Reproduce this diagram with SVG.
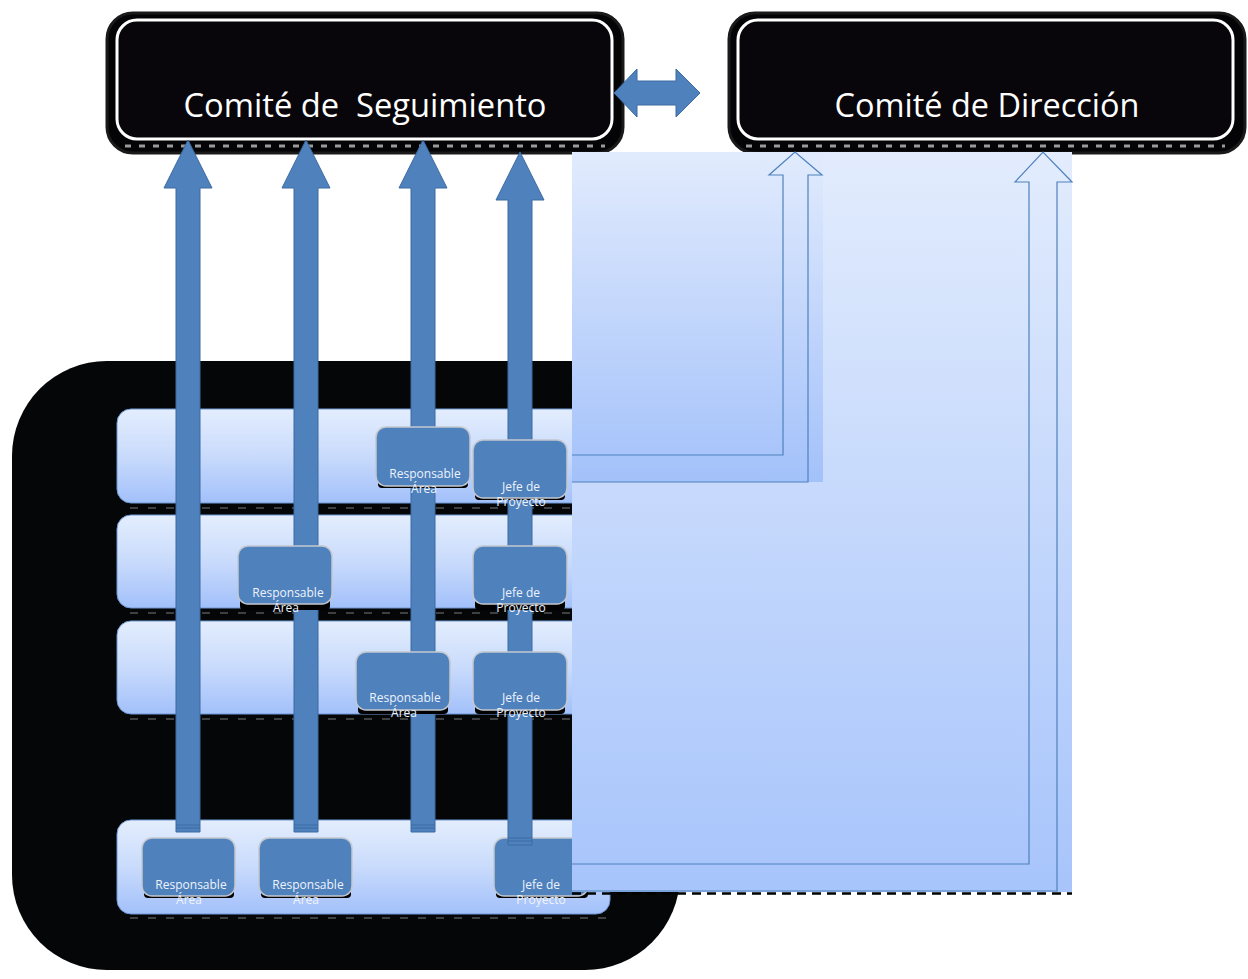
<svg xmlns="http://www.w3.org/2000/svg" width="1248" height="979" viewBox="0 0 1248 979">
<defs>
<linearGradient id="rowG" x1="0" y1="0" x2="0" y2="1">
<stop offset="0" stop-color="#e3edfd"/>
<stop offset="0.5" stop-color="#c9dbfc"/>
<stop offset="1" stop-color="#a2c0fa"/>
</linearGradient>
<linearGradient id="panelG" x1="0" y1="0" x2="0" y2="1">
<stop offset="0" stop-color="#e2ecfd"/>
<stop offset="1" stop-color="#a7c4fb"/>
</linearGradient>
<linearGradient id="panel2G" x1="0" y1="0" x2="0" y2="1">
<stop offset="0" stop-color="#e1ebfd"/>
<stop offset="1" stop-color="#a3c1fa"/>
</linearGradient>
<style>
.title{font-family:"Open Sans","Noto Sans","Liberation Sans",sans-serif;font-size:33px;fill:#ffffff}
.lbl{font-family:"Open Sans","Noto Sans","Liberation Sans",sans-serif;font-size:12px;fill:#eef3fb;text-anchor:middle}
.node{fill:#4f81bd;stroke:#c4c8cf;stroke-width:1.5}
.shadow{fill:#000000}
.row{fill:url(#rowG);stroke:#6f98d4;stroke-width:1}
.arrow{fill:#4f81bd;stroke:#3d6aa2;stroke-width:1}
.hollow{fill:none;stroke:#4f81bd;stroke-width:1.2}
.boxOuter{fill:#040305;stroke:#1a1a1a;stroke-width:3}
.boxInner{fill:#08060a;stroke:#ffffff;stroke-width:3}
.dash{stroke:#9a9a9a;stroke-width:3;stroke-dasharray:6 8;fill:none}
.rowdash{stroke:#7a7a7a;stroke-width:1;stroke-dasharray:8 10;fill:none}
.bdash{stroke:#000000;stroke-width:2.5;stroke-dasharray:9 6;fill:none}
</style>
</defs>

<!-- big black background -->
<g id="equipos">
<rect x="12" y="361" width="668" height="609" rx="95" fill="#050608"/>
</g>

<!-- rows -->
<g id="rows">
<rect class="row" x="117" y="409" width="500" height="94" rx="14"/>
<rect class="row" x="117" y="515" width="500" height="93" rx="14"/>
<rect class="row" x="117" y="621" width="500" height="93" rx="14"/>
<rect class="row" x="117" y="820" width="493" height="94" rx="14"/>
<line class="rowdash" x1="130" y1="508" x2="572" y2="508"/>
<line class="rowdash" x1="130" y1="613" x2="572" y2="613"/>
<line class="rowdash" x1="130" y1="719" x2="572" y2="719"/>
<line class="rowdash" x1="130" y1="918" x2="610" y2="918"/>
</g>

<!-- node under arrow 4 -->
<g id="jefe4">
<rect class="shadow" x="496" y="880" width="92" height="18" rx="4"/>
<rect class="node" x="494" y="838" width="94" height="58" rx="10"/>
<text class="lbl" x="541" y="889">Jefe de</text>
<text class="lbl" x="541" y="904">Proyecto</text>
</g>

<!-- title boxes -->
<g id="seguimiento">
<rect class="boxOuter" x="107" y="13" width="516" height="140" rx="26"/>
<rect class="boxInner" x="117" y="20" width="495" height="119" rx="20"/>
<line class="dash" x1="125" y1="146" x2="605" y2="146"/>
<text class="title" x="365" y="117" text-anchor="middle" textLength="363" lengthAdjust="spacingAndGlyphs" xml:space="preserve">Comité de  Seguimiento</text>
</g>
<g id="direccion">
<rect class="boxOuter" x="729" y="13" width="516" height="140" rx="26"/>
<rect class="boxInner" x="738" y="20" width="495" height="119" rx="20"/>
<line class="dash" x1="746" y1="146" x2="1225" y2="146"/>
<text class="title" x="987" y="117" text-anchor="middle" textLength="305" lengthAdjust="spacingAndGlyphs">Comité de Dirección</text>
</g>

<!-- connectors -->
<g id="connectors">
<path class="arrow" d="M614,93 L637,69 L637,81 L676,81 L676,69 L700,93 L676,117 L676,105 L637,105 L637,117 Z"/>
<path class="arrow" d="M188,140 L212,188 L200,188 L200,832 L176,832 L176,188 L164,188 Z"/>
<path class="arrow" d="M306,140 L330,188 L318,188 L318,832 L294,832 L294,188 L282,188 Z"/>
<path class="arrow" d="M423,140 L447,188 L435,188 L435,832 L411,832 L411,188 L399,188 Z"/>
<path class="arrow" d="M520,152 L544,200 L532,200 L532,845 L508,845 L508,200 L496,200 Z"/>
<g stroke="#3d6aa2" stroke-width="1">
<line x1="176" y1="825" x2="200" y2="825"/><line x1="176" y1="828" x2="200" y2="828"/>
<line x1="294" y1="825" x2="318" y2="825"/><line x1="294" y1="828" x2="318" y2="828"/>
<line x1="411" y1="825" x2="435" y2="825"/><line x1="411" y1="828" x2="435" y2="828"/>
<line x1="508" y1="838" x2="532" y2="838"/><line x1="508" y1="841" x2="532" y2="841"/>
</g>
</g>

<!-- nodes -->
<g id="resp1">
<rect class="shadow" x="378" y="470" width="90" height="18" rx="4"/>
<rect class="node" x="376" y="427" width="94" height="59" rx="10"/>
<text class="lbl" x="425" y="478">Responsable</text>
<text class="lbl" x="424" y="493">Área</text>
</g>
<g id="jefe1">
<rect class="shadow" x="475" y="482" width="90" height="18" rx="4"/>
<rect class="node" x="473" y="440" width="94" height="58" rx="10"/>
<text class="lbl" x="521" y="491">Jefe de</text>
<text class="lbl" x="521" y="506">Proyecto</text>
</g>
<g id="resp2">
<rect class="shadow" x="240" y="590" width="90" height="20" rx="4"/>
<rect class="node" x="238" y="546" width="94" height="58" rx="10"/>
<text class="lbl" x="288" y="597">Responsable</text>
<text class="lbl" x="286" y="612">Área</text>
</g>
<g id="jefe2">
<rect class="shadow" x="475" y="590" width="90" height="20" rx="4"/>
<rect class="node" x="473" y="546" width="94" height="58" rx="10"/>
<text class="lbl" x="521" y="597">Jefe de</text>
<text class="lbl" x="521" y="612">Proyecto</text>
</g>
<g id="resp3">
<rect class="shadow" x="358" y="696" width="90" height="18" rx="4"/>
<rect class="node" x="356" y="652" width="94" height="58" rx="10"/>
<text class="lbl" x="405" y="702">Responsable</text>
<text class="lbl" x="404" y="717">Área</text>
</g>
<g id="jefe3">
<rect class="shadow" x="475" y="696" width="90" height="18" rx="4"/>
<rect class="node" x="473" y="652" width="94" height="58" rx="10"/>
<text class="lbl" x="521" y="702">Jefe de</text>
<text class="lbl" x="521" y="717">Proyecto</text>
</g>
<g id="resp4a">
<rect class="shadow" x="144" y="882" width="90" height="16" rx="4"/>
<rect class="node" x="142" y="838" width="93" height="58" rx="10"/>
<text class="lbl" x="191" y="889">Responsable</text>
<text class="lbl" x="189" y="904">Área</text>
</g>
<g id="resp4b">
<rect class="shadow" x="261" y="882" width="90" height="16" rx="4"/>
<rect class="node" x="259" y="838" width="93" height="58" rx="10"/>
<text class="lbl" x="308" y="889">Responsable</text>
<text class="lbl" x="306" y="904">Área</text>
</g>

<!-- right panel with hollow arrows -->
<g id="panel">
<line class="bdash" x1="572" y1="893.5" x2="1072" y2="893.5"/>
<line class="bdash" x1="572" y1="483.5" x2="822" y2="483.5"/>
<rect x="572" y="152" width="500" height="740" fill="url(#panelG)"/>
<rect x="572" y="152" width="251" height="330" fill="url(#panel2G)"/>
<path class="hollow" d="M572,455 L783,455 L783,175 L769,175 L795,152 L822,175 L808,175 L808,482 L572,482"/>
<path class="hollow" d="M572,864 L1029,864 L1029,182 L1015,182 L1043,152 L1072,182 L1057,182 L1057,891 L572,891"/>
</g>
</svg>
